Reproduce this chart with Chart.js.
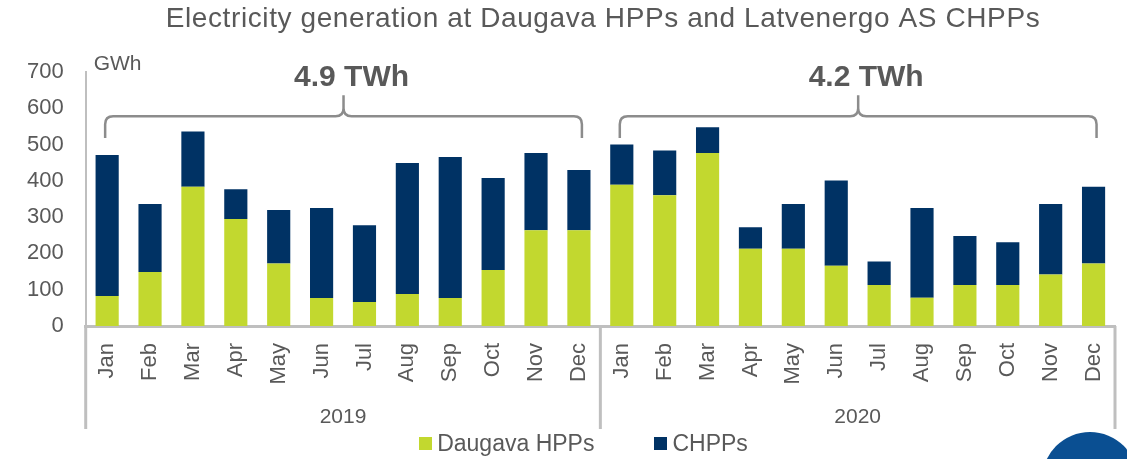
<!DOCTYPE html>
<html>
<head>
<meta charset="utf-8">
<script src="https://cdn.jsdelivr.net/npm/chart.js@4/dist/chart.umd.min.js"></script>
<style>
  body { margin: 0; background: #fff; }
  #wrap { position: relative; width: 1127px; height: 459px; overflow: hidden; }
  #legend { position: absolute; left: 0; top: 430px; width: 1127px; display: flex; justify-content: center;
    padding-left: 40px; box-sizing: border-box; gap: 60px; font: 23px "Liberation Sans", Arial, sans-serif; color: #595959; }
  #legend span.item { display: flex; align-items: center; }
  #legend i { display: inline-block; width: 13px; height: 13px; margin-right: 5px; }
</style>
</head>
<body>
<div id="wrap">
  <canvas id="genChart" width="1127" height="459"></canvas>
  <div id="legend"></div>
</div>
<script>
// data (GWh)
const months = ['Jan','Feb','Mar','Apr','May','Jun','Jul','Aug','Sep','Oct','Nov','Dec',
                'Jan','Feb','Mar','Apr','May','Jun','Jul','Aug','Sep','Oct','Nov','Dec'];
const years = ['2019', '2020'];
const yearTotals = ['4.9 TWh', '4.2 TWh'];
const daugava = [83,149,384,295,172,77,66,88,77,154,264,264,
                 389,360,477,213,213,166,113,78,113,113,142,172];
const chpp = [388,187,152,82,148,248,212,361,389,254,213,166,
              111,124,71,59,123,235,65,247,135,118,194,212];
const yTicks = [0,100,200,300,400,500,600,700];
const title = 'Electricity generation at Daugava HPPs and Latvenergo AS CHPPs';

const grey = '#595959';
const lineGrey = '#bfbfbf';
const font = '"Liberation Sans", Arial, sans-serif';

// title, years, brackets, separators etc
const extras = {
  id: 'extras',
  afterDraw(chart) {
    const c = chart.ctx;
    const x = chart.scales.x, y = chart.scales.y;
    const area = chart.chartArea;
    c.save();

    // title (not centred on the canvas in the original)
    c.fillStyle = grey;
    c.font = '28px ' + font;
    c.textAlign = 'center';
    c.textBaseline = 'middle';
    c.letterSpacing = '0.6px';
    c.fillText(title, 603, 19);
    c.letterSpacing = '0px';

    // separators under the month labels
    c.strokeStyle = lineGrey;
    c.lineWidth = 3;
    const mid = (x.getPixelForValue(11) + x.getPixelForValue(12)) / 2;
    [area.left, mid, area.right].forEach(px => {
      c.beginPath();
      c.moveTo(px, area.bottom);
      c.lineTo(px, area.bottom + 103);
      c.stroke();
    });

    // year labels
    c.font = '21px ' + font;
    c.fillText(years[0], (area.left + mid) / 2, area.bottom + 91);
    c.fillText(years[1], (mid + area.right) / 2, area.bottom + 91);

    // brackets with totals
    const yLine = y.getPixelForValue(578);
    const yEnd = y.getPixelForValue(518);
    const ySpike = y.getPixelForValue(636);
    const r = 8;
    c.strokeStyle = '#8c8c8c';
    c.lineWidth = 2.5;
    [[0, 11], [12, 23]].forEach((g, i) => {
      const x1 = x.getPixelForValue(g[0]) - 2;
      const x2 = x.getPixelForValue(g[1]) + 3;
      const xm = (x1 + x2) / 2;
      c.beginPath();
      c.moveTo(x1, yEnd);
      c.lineTo(x1, yLine + r);
      c.quadraticCurveTo(x1, yLine, x1 + r, yLine);
      c.lineTo(xm - r, yLine);
      c.quadraticCurveTo(xm, yLine, xm, yLine - r);
      c.lineTo(xm, ySpike);
      c.moveTo(xm, yLine - r);
      c.quadraticCurveTo(xm, yLine, xm + r, yLine);
      c.lineTo(x2 - r, yLine);
      c.quadraticCurveTo(x2, yLine, x2, yLine + r);
      c.lineTo(x2, yEnd);
      c.stroke();

      c.font = 'bold 30px ' + font;
      c.fillText(yearTotals[i], xm + 8, y.getPixelForValue(683));
    });

    // unit
    c.font = '21px ' + font;
    c.textAlign = 'left';
    c.fillText('GWh', area.left + 8, y.getPixelForValue(700) - 8);

    // corner logo circle
    c.fillStyle = '#0a4f92';
    c.beginPath();
    c.arc(1090, 480, 48, 0, Math.PI * 2);
    c.fill();
    c.restore();
  }
};

const ctx = document.getElementById('genChart');

const chart = new Chart(ctx, {
  type: 'bar',
  data: {
    labels: months,
    datasets: [
      { label: 'Daugava HPPs', data: daugava, backgroundColor: '#c2d82f', borderWidth: 0 },
      { label: 'CHPPs', data: chpp, backgroundColor: '#003264', borderWidth: 0 }
    ]
  },
  options: {
    responsive: false,
    animation: false,
    layout: { padding: { top: 72, left: 5, right: 12, bottom: 27 } },
    categoryPercentage: 1,
    barPercentage: 0.54,
    scales: {
      x: {
        stacked: true,
        grid: { display: false, drawTicks: false },
        border: { color: lineGrey, width: 3 },
        ticks: {
          autoSkip: false, minRotation: 90, maxRotation: 90, padding: 17,
          color: grey, font: { family: font, size: 22 }
        },
        afterFit(scale) {
          scale.height = 106;
          scale.paddingLeft = 0;
          scale.paddingRight = 0;
        }
      },
      y: {
        stacked: true,
        min: 0, max: 700,
        grid: { display: false, drawTicks: false },
        border: { color: lineGrey, width: 2 },
        afterBuildTicks(scale) { scale.ticks = yTicks.map(v => ({ value: v })); },
        ticks: { padding: 22, color: grey, font: { family: font, size: 22 } }
      }
    },
    plugins: {
      legend: { display: false },
      tooltip: { enabled: false },
      title: { display: false }
    }
  },
  plugins: [extras]
});

// legend below the chart, from the datasets
const legendBox = document.getElementById('legend');
chart.data.datasets.forEach(ds => {
  const item = document.createElement('span');
  item.className = 'item';
  item.innerHTML = '<i style="background:' + ds.backgroundColor + '"></i>' + ds.label;
  legendBox.appendChild(item);
});
</script>
</body>
</html>
